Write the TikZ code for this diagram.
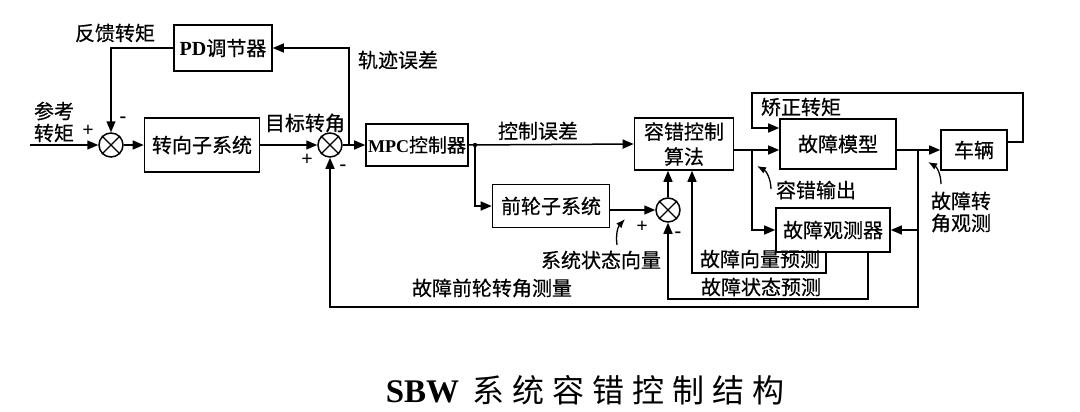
\documentclass[tikz,border=0pt]{standalone}
\usepackage{fontspec}
\setmainfont{Liberation Serif}
\newfontfamily\cjk[FakeBold=0.5]{Noto Sans CJK SC}
\newfontfamily\cjktitle{Noto Sans CJK SC}
\usetikzlibrary{arrows.meta,calc}
\begin{document}
\begin{tikzpicture}[x=1pt,y=-1pt,line width=1.5pt,
  >={Triangle[length=11pt,width=9pt]},
  blk/.style={draw,line width=1.6pt,inner sep=0pt,align=center,font=\cjk\fontsize{20}{25}\selectfont},
  sumnode/.style={circle,draw,minimum size=24pt,inner sep=0pt},
  lbl/.style={inner sep=0pt,align=center,font=\cjk\fontsize{20}{22}\selectfont},
  sgn/.style={inner sep=0pt,font=\bfseries\fontsize{20}{20}\selectfont},
  cur/.style={-{Latex[length=9pt,width=7pt]},line width=1.3pt}]
\useasboundingbox (0,0) rectangle (1080,412);

% blocks
\node[blk,minimum width=98pt,minimum height=46pt] (pd) at (223,48) {{\rmfamily\bfseries PD}调节器};
\node[blk,minimum width=115pt,minimum height=54pt] (zx) at (202,145) {转向子系统};
\node[blk,minimum width=102pt,minimum height=42pt,font=\cjk\fontsize{19}{22}\selectfont] (mpc) at (417,145) {{\rmfamily\bfseries\fontsize{18}{22}\selectfont MPC}控制器};
\node[blk,minimum width=99pt,minimum height=52pt] (rc) at (684,144) {容错控制\\算法};
\node[blk,minimum width=117pt,minimum height=43pt] (qz) at (551,206) {前轮子系统};
\node[blk,minimum width=116pt,minimum height=50pt] (gm) at (838,144) {故障模型};
\node[blk,minimum width=66pt,minimum height=40pt] (cl) at (974,150) {车辆};
\node[blk,minimum width=114pt,minimum height=44pt] (gc) at (833,230) {故障观测器};

% summing junctions
\node[sumnode] (s1) at (111,145) {};
\node[sumnode] (s2) at (330,145) {};
\node[sumnode] (s3) at (668,210) {};
\foreach \s in {s1,s2,s3}
  \draw[line width=1.2pt] (\s.north west) -- (\s.south east) (\s.north east) -- (\s.south west);

% coordinates
\coordinate (in) at (30,145);
\coordinate (b1) at (349,145);
\coordinate (dot) at (475,145);
\coordinate (j1) at (752,150);
\coordinate (j2) at (918,150);
\coordinate (j3) at (918,230);
\coordinate (fb) at (918,307);
\coordinate (tp) at (752,93);
\coordinate (tr) at (1023,93);
\coordinate (tq) at (752,128);
\coordinate (xv) at (826,273);
\coordinate (rv) at (692,273);
\coordinate (xs) at (868,299);

% connectors
\draw[->] (in) -- (s1);
\draw[->] (s1) -- (zx);
\draw[->] (zx) -- (s2);
\draw[->] (s2) -- (mpc);
\draw[->] (b1) |- (pd.east);
\draw[->] (pd.west) -| (s1.north);
\draw[->] (mpc.east) -- (rc.west);
\fill (dot) circle (2.2pt);
\draw[->] (dot) |- (qz.west);
\draw[->] (qz.east |- s3) -- (s3.west);
\draw[->] (s3.north) -- (s3.north |- rc.south);
\draw[->] (xv |- gc.south) -- (xv) -- (rv) -- (rv |- rc.south);
\draw[->] (xs |- gc.south) -- (xs) -| (s3.south);
\draw[->] (rc.east |- j1) -- (gm.west |- j1);
\draw[->] (j1) |- (gc.west);
\draw[->] ([yshift=8pt]cl.east) -| (tr) -- (tp) -- (tq) -- (gm.west |- tq);
\draw[->] (gm.east |- j2) -- (cl.west |- j2);
\draw[->] (j2) -- (fb) -| (s2.south);
\draw[->] (j3) -- (gc.east);

% labels
\node[lbl] (l1) at (115,33) {反馈转矩};
\node[lbl] (l2) at (54,122) {参考\\转矩};
\node[sgn] (p1) at (88,131) {+};
\node[sgn] (m1) at (123,120) {-};
\node[lbl] (l3) at (305,123) {目标转角};
\node[sgn] (p2) at (307,160) {+};
\node[sgn] (m2) at (343,168) {-};
\node[lbl] (l4) at (398,60) {轨迹误差};
\node[lbl] (l5) at (538,131) {控制误差};
\node[sgn] (p3) at (642,227) {+};
\node[sgn] (m3) at (678,235) {-};
\node[lbl] (l6) at (601,260) {系统状态向量};
\node[lbl] (l7) at (492,288) {故障前轮转角测量};
\node[lbl] (l8) at (801,107) {矫正转矩};
\node[lbl] (l9) at (816,190) {容错输出};
\node[lbl] (l10) at (961,212) {故障转\\角观测};
\node[lbl] (l11) at (760,259) {故障向量预测};
\node[lbl] (l12) at (761,287) {故障状态预测};

\draw[cur] (617,245) to[bend left=25] (625,219);
\draw[cur] (771,189) to[bend right=30] (757,166);
\draw[cur] (941,184) to[bend right=30] (928,162);

% title
\node[inner sep=0pt] (title) at (585,390) {{\rmfamily\bfseries\fontsize{33}{36}\selectfont SBW}\hspace{13pt}{\cjktitle\fontsize{32}{36}\selectfont 系\hspace{8pt}统\hspace{8pt}容\hspace{8pt}错\hspace{8pt}控\hspace{8pt}制\hspace{8pt}结\hspace{8pt}构}};
\end{tikzpicture}
\end{document}
